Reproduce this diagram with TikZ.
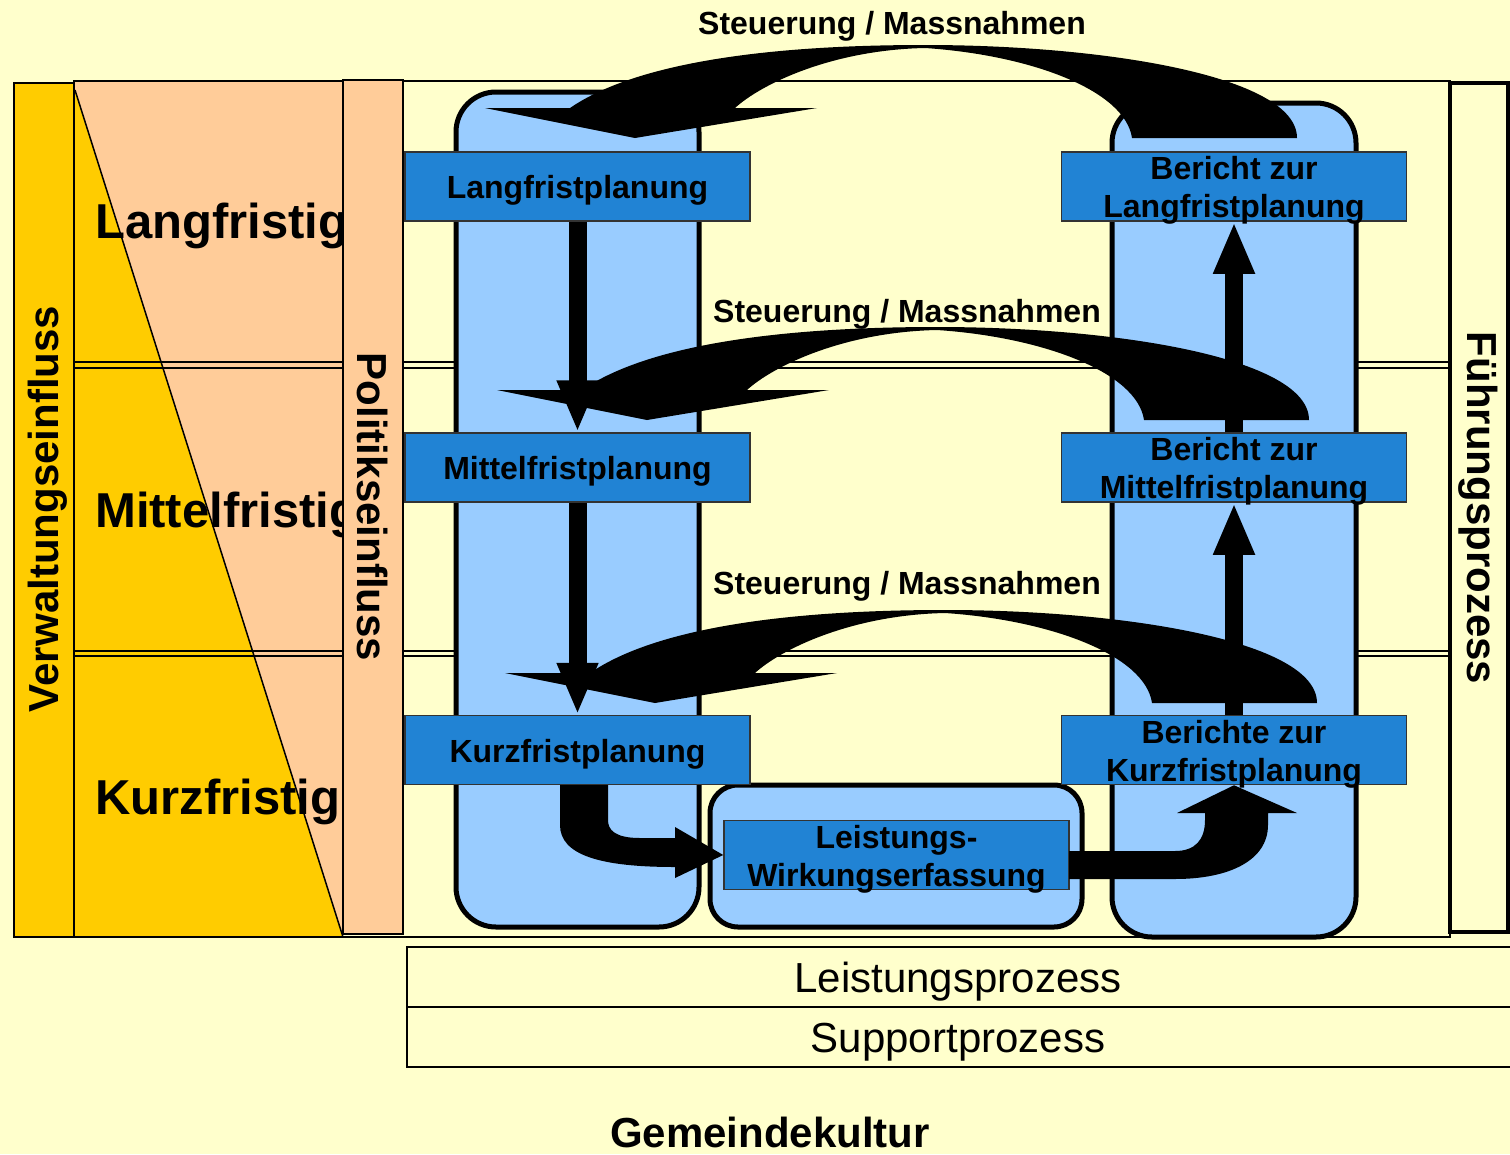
\documentclass[tikz,border=0pt]{standalone}
\usepackage{fontspec}
\setmainfont{Liberation Sans}
\usetikzlibrary{arrows.meta}

\definecolor{hgelb}{HTML}{FFFFCC}
\definecolor{gold}{HTML}{FFCC00}
\definecolor{pfirsich}{HTML}{FFCC99}
\definecolor{hblau}{HTML}{99CCFF}
\definecolor{kblau}{HTML}{2183D4}

\begin{document}
\begin{tikzpicture}[x=1pt,y=-1pt,
   planbox/.style={draw=black!80,line width=1.5pt,fill=kblau,minimum width=345pt,minimum height=69pt,
     inner sep=0pt},
   plantext/.style={align=center,inner sep=0pt,yshift=-4pt,font=\fontsize{32}{38}\selectfont\bfseries},
   saeule/.style={draw=black,line width=5pt,fill=hblau,rounded corners=40pt},
   pfeil/.style={line width=18pt,-{Triangle[width=38pt,length=52pt]}},
   steuer/.style={font=\fontsize{32}{38}\selectfont\bfseries},
   zeile/.style={draw=black,line width=1.5pt},
   frist/.style={anchor=west,inner sep=0pt,font=\fontsize{49}{55}\selectfont\bfseries},
   senkrecht/.style={font=\fontsize{42}{48}\selectfont\bfseries},
   prozess/.style={font=\fontsize{42}{48}\selectfont}]
   \useasboundingbox (0,0) rectangle (1510,1154);
   \fill[hgelb] (0,0) rectangle (1510,1154);

   %% Zeilen
   \fill[pfirsich] (74,81) rectangle (343,937);
   \fill[gold] (75,90) -- (343,937) -- (74,937) -- cycle;
   \draw[line width=1.5pt] (75,90) -- (343,937);
   \draw[zeile] (74,81) rectangle (1450,362);
   \draw[zeile] (74,368) rectangle (1450,651);
   \draw[zeile] (74,656) rectangle (1450,937);
   \node[frist] (lf) at (95,226) {Langfristig};
   \node[frist] (mf) at (95,515) {Mittelfristig};
   \node[frist] (kf) at (95,802) {Kurzfristig};

   %% Einfluss / Fuehrung
   \draw[line width=1.5pt,fill=gold] (14,83) rectangle (74,937);
   \node[senkrecht,rotate=90] (verw) at (48,509) {Verwaltungseinfluss};
   \draw[line width=1.5pt,fill=pfirsich] (343,80) rectangle (403,934);
   \node[senkrecht,rotate=-90] (politik) at (373,507) {Politikseinfluss};
   \draw[line width=3.5pt,fill=hgelb] (1450,83) rectangle (1508,932);
   \node[senkrecht,rotate=-90] (fuehrung) at (1478,508) {Führungsprozess};

   %% Saeulen
   \draw[saeule] (456,92) rectangle (699,927);
   \draw[saeule] (1112,103) rectangle (1356,937);
   \draw[saeule,rounded corners=28pt] (710,785) rectangle (1082,927);

   %% Kaesten
   \node[planbox,label={[plantext]center:Langfristplanung}] (lang) at (577.5,186.5) {};
   \node[planbox,label={[plantext]center:Mittelfristplanung}] (mittel) at (577.5,467.5) {};
   \node[planbox,label={[plantext]center:Kurzfristplanung}] (kurz) at (577.5,750) {};
   \node[planbox,label={[plantext]center:Bericht zur\\Langfristplanung}] (blang) at (1234,186.5) {};
   \node[planbox,label={[plantext]center:Bericht zur\\Mittelfristplanung}] (bmittel) at (1234,467.5) {};
   \node[planbox,label={[plantext]center:Berichte zur\\Kurzfristplanung}] (bkurz) at (1234,750) {};
   \node[planbox,label={[plantext]center:Leistungs-\\Wirkungserfassung}] (leist) at (896.5,855) {};

   %% Pfeile
   \draw[pfeil] (lang.south) -- (mittel.north);
   \draw[pfeil] (mittel.south) -- (kurz.north);
   \draw[pfeil] (bkurz.north) -- (bmittel.south);
   \draw[pfeil] (bmittel.north) -- (blang.south);

   \fill (560,785) -- (560,825) .. controls (560,855) and (600,867) .. (675,867) -- (675,878)
      -- (leist.west) -- (675,827) -- (675,838) -- (640,838) .. controls (615,838) and (608,830) .. (608,820)
      -- (608,785) -- cycle;
   \fill (1069,851) -- (1175,851) .. controls (1195,851) and (1205,840) .. (1205,820) -- (1205,813)
      -- (1177,813) -- (bkurz.south) -- (1297,813) -- (1268,813) -- (1268,825)
      .. controls (1268,860) and (1230,879) .. (1175,879) -- (1069,879) -- cycle;

   %% Steuerung / Massnahmen
   \foreach \dx/\dy in {0/0,12/282,20/565}
     \fill[shift={(\dx,\dy)}] (1297,138) .. controls (1297,75) and (1100,45) .. (925,45)
        .. controls (780,45) and (640,60) .. (570,108) -- (485,108) -- (635,138) -- (817,108) -- (735,108)
        .. controls (760,85) and (830,50) .. (925,48) .. controls (1030,55) and (1125,90) .. (1132,138) -- cycle;
   \node[steuer] (st1) at (892,26) {Steuerung / Massnahmen};
   \node[steuer] (st2) at (907,314) {Steuerung / Massnahmen};
   \node[steuer] (st3) at (907,586) {Steuerung / Massnahmen};

   %% Prozesse
   \draw[line width=1.5pt] (407,947) rectangle (1512,1007);
   \draw[line width=1.5pt] (407,1007) rectangle (1512,1067);
   \node[prozess] (leistp) at (958,982) {Leistungsprozess};
   \node[prozess] (supportp) at (958,1042) {Supportprozess};
   \node[senkrecht,inner sep=0pt] (kultur) at (770,1132) {Gemeindekultur};
\end{tikzpicture}
\end{document}
